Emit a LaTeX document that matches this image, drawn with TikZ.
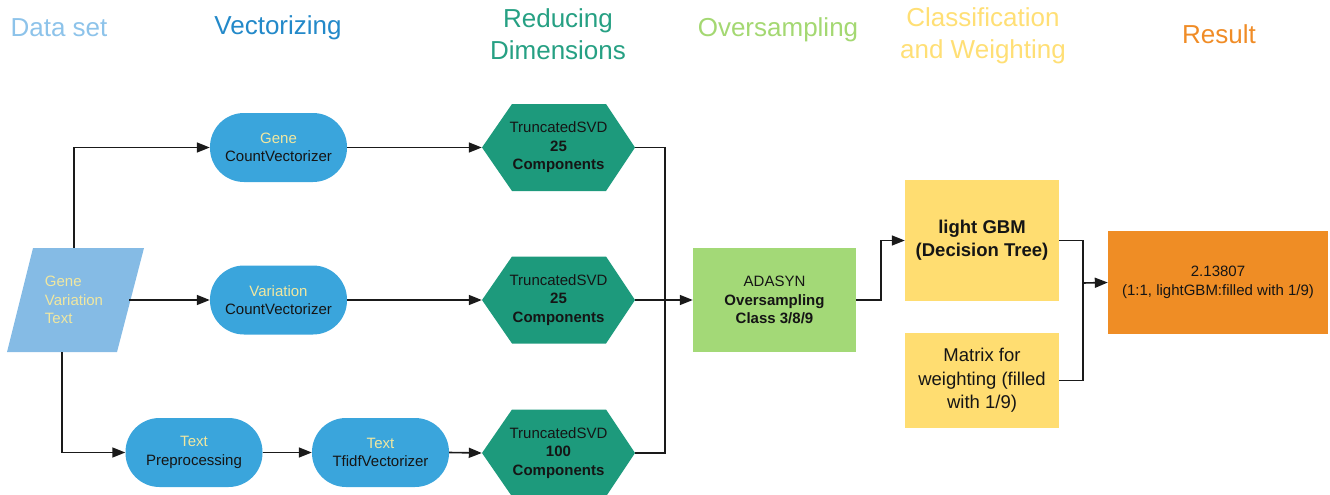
\documentclass[tikz,border=0pt]{standalone}
\usepackage{fontspec}
\setmainfont{Liberation Sans}
\usetikzlibrary{arrows.meta}

\definecolor{cDataset}{HTML}{8DC3EA}
\definecolor{cVector}{HTML}{2389C9}
\definecolor{cReduce}{HTML}{26A083}
\definecolor{cOver}{HTML}{A4D872}
\definecolor{cClass}{HTML}{FFDF75}
\definecolor{cResult}{HTML}{F08C26}
\definecolor{fPara}{HTML}{85BBE5}
\definecolor{fPill}{HTML}{3AA5DC}
\definecolor{fHex}{HTML}{1D9A7C}
\definecolor{fGreen}{HTML}{A3D977}
\definecolor{fYellow}{HTML}{FFDD71}
\definecolor{fOrange}{HTML}{EF8D25}
\definecolor{txtPale}{HTML}{F0E7A0}
\definecolor{txtDark}{HTML}{151515}
\definecolor{lineDark}{HTML}{1A1A1A}

\tikzset{
  heading/.style={align=center, inner sep=0pt,
    font=\fontsize{26}{32}\selectfont},
  body/.style={inner sep=0pt, align=center, text=txtDark,
    font=\fontsize{15}{18.6}\selectfont},
  pill/.style={body, fill=fPill, rounded corners=34pt,
    minimum width=137pt, minimum height=69pt},
  hexbox/.style={body, minimum width=153pt, minimum height=87pt},
  greenbox/.style={body, fill=fGreen, minimum width=163pt, minimum height=104pt},
  yellowbox/.style={body, fill=fYellow, minimum width=154pt,
    font=\fontsize{18.5}{23.3}\selectfont},
  orangebox/.style={body, fill=fOrange, minimum width=220pt, minimum height=103pt},
  conn/.style={draw=lineDark, line width=1.6pt},
  arr/.style={conn, -{Triangle[length=13pt,width=10pt]}},
  pale/.style={text=txtPale}
}

\begin{document}
\begin{tikzpicture}[x=1pt, y=-1pt]
\useasboundingbox (0,0) rectangle (1330,495);

% column headings
\node[heading, text=cDataset] (hData) at (59,28) {Data set};
\node[heading, text=cVector] (hVec) at (278,28) {Vectorizing};
\node[heading, text=cReduce] (hRed) at (558,34) {Reducing\\Dimensions};
\node[heading, text=cOver] (hOver) at (778,30) {Oversampling};
\node[heading, text=cClass] (hClass) at (983,36) {Classification\\and Weighting};
\node[heading, text=cResult] (hRes) at (1219,34) {Result};

% input data (parallelogram)
\fill[fPara] (7,352) -- (33,248) -- (144,248) -- (117,352) -- cycle;
\node[body, pale, align=left, minimum width=110pt, minimum height=104pt]
  (src) at (74,300) {Gene\\Variation\\Text};

% vectorizers
\node[pill] (gene) at (278.5,147.5) {\textcolor{txtPale}{Gene}\\CountVectorizer};
\node[pill] (var) at (278.5,300) {\textcolor{txtPale}{Variation}\\CountVectorizer};
\node[pill] (prep) at (194,452.5) {\textcolor{txtPale}{Text}\\Preprocessing};
\node[pill] (tfidf) at (380.5,452.5) {\textcolor{txtPale}{Text}\\TfidfVectorizer};

% dimension reduction: hexagon outlines, then their labels
\foreach \cy in {147.5,300,453}
  \fill[fHex] (482,\cy) -- (512,\cy-43.5) -- (606,\cy-43.5)
    -- (635,\cy) -- (606,\cy+43.5) -- (512,\cy+43.5) -- cycle;
\node[hexbox] (h1) at (558.5,147.5) {TruncatedSVD\\\textbf{25}\\\textbf{Components}};
\node[hexbox] (h2) at (558.5,300) {TruncatedSVD\\\textbf{25}\\\textbf{Components}};
\node[hexbox] (h3) at (558.5,453) {TruncatedSVD\\\textbf{100}\\\textbf{Components}};

% oversampling
\node[greenbox] (ada) at (774.5,300)
  {ADASYN\\\textbf{Oversampling}\\\textbf{Class 3/8/9}};

% classification and weighting
\node[yellowbox, minimum height=121pt] (gbm) at (982,240.5)
  {\textbf{light GBM}\\\textbf{(Decision Tree)}};
\node[yellowbox, minimum height=95pt] (mat) at (982,380.5)
  {Matrix for\\weighting (filled\\with 1/9)};

% result
\node[orangebox] (res) at (1218,282.5)
  {2.13807\\(1:1, lightGBM:filled with 1/9)};

% junction points
\coordinate (m) at (665,300);
\coordinate (j) at (1083,283);

% connectors
\draw[arr] (src.north) |- (gene.west);
\draw[arr] (src.east) -- (var.west);
\draw[arr] ([xshift=-12pt]src.south) |- (prep.west);
\draw[arr] (prep.east) -- (tfidf.west);
\draw[arr] (gene.east) -- (h1.west);
\draw[arr] (var.east) -- (h2.west);
\draw[arr] (tfidf.east) -- (h3.west);
\draw[conn] (h1.east) -| (m);
\draw[conn] (h3.east) -| (m);
\draw[arr] (h2.east) -- (ada.west);
\draw[arr] (ada.east) -- ++(25,0) |- (gbm.west);
\draw[conn] (gbm.east) -| (j);
\draw[conn] (mat.east) -| (j);
\draw[arr] (j) -- (res.west);
\end{tikzpicture}
\end{document}
